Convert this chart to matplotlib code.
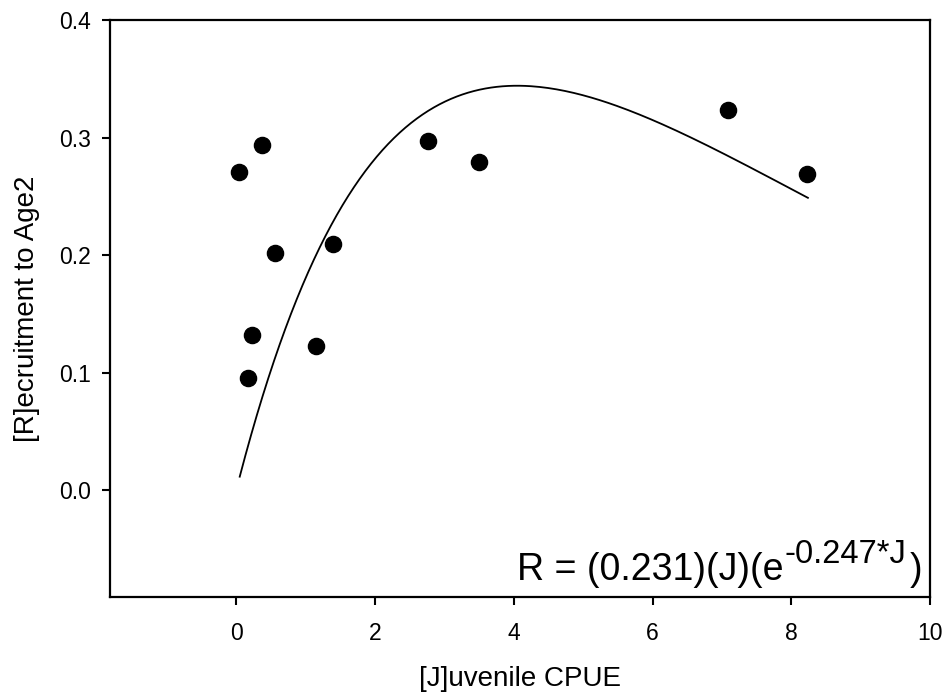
import numpy as np
import matplotlib.pyplot as plt

plt.rcParams['font.family'] = ['Liberation Sans', 'DejaVu Sans']

# observed points (juvenile CPUE, recruitment to age 2)
juv = [0.04, 0.17, 0.23, 0.37, 0.56, 1.15, 1.40, 2.77, 3.50, 7.09, 8.23]
rec = [0.271, 0.095, 0.132, 0.294, 0.202, 0.123, 0.209, 0.297, 0.279, 0.323, 0.269]

# fitted Ricker model R = a*J*exp(-b*J)
a_coef = 0.231
b_coef = 0.247
j_start, j_end = 0.05, 8.24

xticks = [0, 2, 4, 6, 8, 10]
yticks = [0.0, 0.1, 0.2, 0.3, 0.4]

fig = plt.figure(figsize=(9.49, 6.96), dpi=100)
ax = fig.add_axes([0.1159, 0.1422, 0.8641, 0.8291])

jj = np.linspace(j_start, j_end, 200)
ax.plot(jj, a_coef * jj * np.exp(-b_coef * jj), color='black', lw=1.3)
ax.scatter(juv, rec, s=135, color='black', zorder=3)

ax.set_xlim(-1.82, 10)
ax.set_ylim(-0.091, 0.4)
ax.set_xticks(xticks)
ax.set_xticklabels([str(t) for t in xticks])
ax.set_yticks(yticks)
ax.set_yticklabels(['%.1f' % t for t in yticks])

for s in ax.spines.values():
    s.set_linewidth(1.6)
ax.tick_params(direction='out', length=6, width=1.5, labelsize=16.5)
ax.tick_params(axis='x', pad=12)
ax.tick_params(axis='y', pad=8)

ax.set_xlabel('[J]uvenile CPUE', fontsize=20)
ax.set_ylabel('[R]ecruitment to Age2', fontsize=20)
ax.xaxis.set_label_coords(0.5, -0.1196)
ax.yaxis.set_label_coords(-0.085, 0.5)

# equation: main part, superscript, closing bracket
ax.text(0.821, 0.0295, 'R = (0.231)(J)(e', transform=ax.transAxes,
        ha='right', va='baseline', fontsize=27)
ax.text(0.822, 0.059, '-%.3f*J' % b_coef, transform=ax.transAxes,
        ha='left', va='baseline', fontsize=23.5)
ax.text(0.991, 0.0295, ')', transform=ax.transAxes,
        ha='right', va='baseline', fontsize=27)

fig.savefig('out.png', dpi=100)
